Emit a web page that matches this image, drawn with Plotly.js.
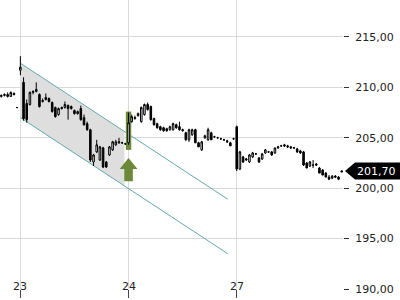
<!DOCTYPE html>
<html><head><meta charset="utf-8">
<script src="https://cdn.plot.ly/plotly-3.0.1.min.js"></script>
<style>html,body{margin:0;padding:0;background:#fff}#c{width:400px;height:300px}</style>
</head><body><div id="c"></div>
<script>
// candle index (0 = first candle of day 23), 34 candles per day
const candleIdx = [];
for (let i = -6; i <= 101; i++) candleIdx.push(i);
const openP  = [209.1,209.2,209.3,209.1,209.4,208.0,
 211.7,210.5,208.4,208.3,209.5,209.6,209.3,208.6,208.8,208.9,208.5,208.0,207.3,207.9,208.0,208.2,207.9,207.7,207.4,207.9,207.0,206.4,205.8,202.6,203.6,202.8,204.0,202.6,203.3,203.8,204.3,204.5,204.5,204.4,
 204.5,206.6,206.9,207.2,206.6,207.3,208.3,208.1,206.9,206.4,206.1,206.0,205.9,205.8,205.8,206.3,206.1,205.7,205.5,204.8,205.3,205.8,204.5,203.8,205.0,204.8,205.5,205.1,205.0,204.9,204.8,204.7,204.5,204.9,
 206.1,201.9,203.1,202.8,202.6,203.1,203.4,203.0,202.9,203.5,203.6,203.6,203.5,204.0,204.2,204.3,204.2,204.1,204.0,203.9,203.7,203.6,202.5,202.2,202.3,202.4,202.0,201.8,201.5,201.1,201.0,201.2,201.1,201.6];
const highP  = [209.3,209.4,209.5,209.6,209.5,208.05,
 213.1,211.0,208.8,209.6,209.7,210.5,209.4,208.9,209.4,209.0,208.6,208.1,208.0,208.1,208.6,208.3,208.2,207.8,207.7,208.2,207.3,206.6,205.9,203.4,204.8,204.2,204.1,202.7,204.2,204.7,204.8,205.0,204.6,204.5,
 207.5,207.3,207.2,207.5,208.1,208.4,208.5,208.2,207.0,206.5,206.2,206.1,206.0,206.2,206.5,206.4,206.6,205.9,205.6,205.9,205.9,205.9,204.6,204.7,205.3,206.0,205.6,205.2,205.1,205.0,204.9,204.8,204.6,205.0,
 206.2,203.7,203.2,203.0,203.4,203.6,203.5,203.1,203.5,203.9,203.7,203.7,204.0,204.2,204.3,204.4,204.3,204.2,204.1,204.0,203.8,203.7,202.6,202.7,202.8,202.5,202.1,201.9,201.6,201.3,201.3,201.3,201.2,201.75];
const lowP   = [209.0,209.1,209.0,209.1,209.2,207.95,
 211.2,206.7,206.5,208.2,209.3,209.5,208.0,208.5,208.7,208.5,207.5,207.0,207.2,207.8,207.9,206.8,207.8,207.3,207.3,206.7,206.2,205.7,202.6,202.2,203.5,202.7,202.0,202.0,203.2,203.7,204.2,204.4,204.4,204.3,
 204.3,206.5,206.8,207.1,206.5,207.2,207.7,206.7,206.2,205.9,205.7,205.6,205.6,205.7,205.7,205.9,205.7,205.6,204.7,204.6,205.2,204.5,204.1,203.7,204.9,204.7,204.8,205.0,204.9,204.8,204.7,204.5,204.2,204.8,
 201.7,201.8,202.5,202.7,202.5,203.0,203.3,202.5,202.8,203.4,203.5,203.2,203.4,203.9,204.1,204.1,204.0,203.9,203.9,203.5,203.4,202.2,202.0,202.1,202.0,202.2,201.5,201.3,201.1,200.8,200.9,201.0,200.8,201.6];
const closeP = [209.2,209.3,209.1,209.5,209.3,208.0,
 212.0,206.9,206.8,209.5,209.6,209.8,208.1,208.7,209.0,208.6,207.6,207.1,207.9,208.0,208.3,207.9,208.1,207.4,207.6,206.8,206.3,205.8,202.8,203.3,204.3,204.1,202.1,202.1,204.1,204.6,204.6,204.6,204.5,204.4,
 206.5,207.1,207.0,207.4,208.0,208.3,207.8,206.8,206.3,206.0,205.8,205.7,205.7,206.1,206.4,206.0,205.8,205.8,204.8,205.8,205.8,204.5,204.1,204.6,205.2,205.8,204.8,205.1,205.0,204.9,204.8,204.6,204.2,204.9,
 201.9,203.6,202.6,202.9,203.3,203.5,203.4,202.6,203.4,203.8,203.6,203.3,204.0,204.1,204.2,204.2,204.1,204.0,204.0,203.6,203.5,202.3,202.0,202.6,202.3,202.3,201.5,201.3,201.1,200.9,201.2,201.1,200.9,201.7];

// x-axis day ticks
const dayTickIdx = [0, 34, 68];
const dayLabels = ['23', '24', '27'];

// descending channel
const chanX = [0, 65.2];
const chanUpper = [212.4, 198.9];
const chanLower = [207.0, 193.5];
const chanFillEnd = 32.7;

// breakout signal
const signalIdx = 34;
const signalBar = [203.8, 207.6];
const arrowPrices = [203.0, 201.9, 200.7]; // tip, head base, shaft bottom

const lastPrice = 201.70;

const lerp = (x, xs, ys) => ys[0] + (ys[1]-ys[0])*(x-xs[0])/(xs[1]-xs[0]);

const teal = 'rgb(98,170,178)';
const olive = 'rgb(108,137,58)';

const traces = [
  {type:'candlestick', x: candleIdx, open: openP, high: highP, low: lowP, close: closeP,
   increasing:{line:{color:'#000', width:1}, fillcolor:'#fff'},
   decreasing:{line:{color:'#000', width:1}, fillcolor:'#000'},
   whiskerwidth:0, hoverinfo:'skip'}
];

const W = 343; // plot width px
const pxToPaper = p => p / W;
const hh = 8.5/10.08;
const aw = 2.8, sw = 1.35;

const fillPath = `M ${chanX[0]},${chanUpper[0]} L ${chanFillEnd},${lerp(chanFillEnd, chanX, chanUpper)} L ${chanFillEnd},${lerp(chanFillEnd, chanX, chanLower)} L ${chanX[0]},${chanLower[0]} Z`;

const layout = {
  width:400, height:300,
  margin:{l:0, r:57, t:0, b:11},
  showlegend:false,
  paper_bgcolor:'#fff', plot_bgcolor:'#fff',
  separators:',.',
  font:{family:'DejaVu Sans', size:11, color:'#222'},
  xaxis:{range:[-6.4, 101.4], tickvals:dayTickIdx, ticktext:dayLabels, showticklabels:false,
    ticks:'outside', ticklen:8, tickcolor:'#444', showgrid:true, gridcolor:'#d9d9d9', gridwidth:1,
    zeroline:false, showline:false, rangeslider:{visible:false}, fixedrange:true},
  yaxis:{range:[190, 218.67], side:'right', dtick:5, tick0:190, tickformat:'.2f',
    ticks:'outside', ticklen:5, tickcolor:'#333', ticklabelstandoff:4, automargin:false,
    showgrid:true, gridcolor:'#d9d9d9', gridwidth:1, zeroline:false, showline:false, fixedrange:true},
  shapes:[
    {type:'path', layer:'between', xref:'x', yref:'y', path:fillPath, fillcolor:'rgb(222,222,222)', line:{width:0}},
    {type:'line', layer:'between', xref:'x', yref:'y', x0:chanX[0], x1:chanX[1], y0:chanUpper[0], y1:chanUpper[1], line:{color:teal, width:1}},
    {type:'line', layer:'between', xref:'x', yref:'y', x0:chanX[0], x1:chanX[1], y0:chanLower[0], y1:chanLower[1], line:{color:teal, width:1}},
    {type:'rect', layer:'between', xref:'x', yref:'y', x0:signalIdx-0.85, x1:signalIdx+0.85, y0:signalBar[0], y1:signalBar[1], fillcolor:olive, line:{width:0}},
    {type:'path', xref:'x', yref:'y', fillcolor:olive, line:{width:0},
     path:`M ${signalIdx},${arrowPrices[0]} L ${signalIdx+aw},${arrowPrices[1]} L ${signalIdx+sw},${arrowPrices[1]} L ${signalIdx+sw},${arrowPrices[2]} L ${signalIdx-sw},${arrowPrices[2]} L ${signalIdx-sw},${arrowPrices[1]} L ${signalIdx-aw},${arrowPrices[1]} Z`},
    {type:'path', xref:'paper', yref:'y', fillcolor:'#000', line:{width:0},
     path:`M ${pxToPaper(345)},${lastPrice} L ${pxToPaper(355)},${lastPrice+hh} L ${pxToPaper(400)},${lastPrice+hh} L ${pxToPaper(400)},${lastPrice-hh} L ${pxToPaper(355)},${lastPrice-hh} Z`}
  ],
  annotations: dayLabels.map((t,i)=>({x:dayTickIdx[i], xref:'x', y:0, yref:'paper', yanchor:'middle', yshift:3, text:t, showarrow:false, font:{size:11, color:'#222'}})).concat([
    {x:1, xref:'paper', xanchor:'left', xshift:12, y:lastPrice, yref:'y', text:lastPrice.toFixed(2).replace('.',','), showarrow:false, font:{size:11, color:'#fff'}}
  ])
};

Plotly.newPlot('c', traces, layout, {staticPlot:true, displayModeBar:false});
</script></body></html>
